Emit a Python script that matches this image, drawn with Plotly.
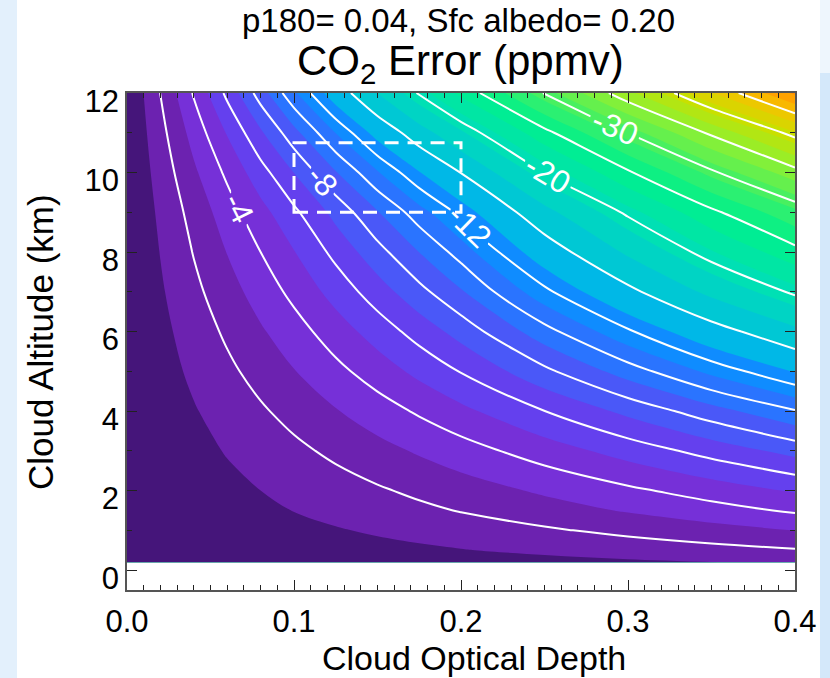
import numpy as np
import plotly.graph_objects as go

# Cloud optical depth (columns) and cloud altitude in km (rows)
optical_depth = [0.0, 0.02, 0.04, 0.06, 0.08, 0.10, 0.125, 0.15, 0.175, 0.20, 0.25, 0.30, 0.35, 0.40]
altitude_km = [0.2, 0.5, 1, 1.5, 2, 3, 4, 5, 6, 7, 8, 9, 10, 11, 12]

# CO2 error (ppmv), one row per altitude
co2_error = [
    [0, -0.06, -0.11, -0.17, -0.22, -0.28, -0.35, -0.42, -0.49, -0.56, -0.70, -0.85, -0.99, -1.13],
    [0, -0.10, -0.19, -0.29, -0.38, -0.48, -0.60, -0.72, -0.84, -0.96, -1.20, -1.44, -1.68, -1.92],
    [0, -0.15, -0.30, -0.44, -0.59, -0.74, -0.93, -1.12, -1.30, -1.49, -1.87, -2.25, -2.63, -3.01],
    [0, -0.20, -0.40, -0.61, -0.81, -1.02, -1.27, -1.53, -1.79, -2.05, -2.56, -3.09, -3.61, -4.14],
    [0, -0.25, -0.50, -0.75, -1.00, -1.25, -1.56, -1.88, -2.20, -2.52, -3.16, -3.80, -4.45, -5.11],
    [0, -0.35, -0.70, -1.06, -1.41, -1.77, -2.22, -2.67, -3.12, -3.57, -4.49, -5.42, -6.38, -7.35],
    [0, -0.46, -0.93, -1.40, -1.87, -2.34, -2.94, -3.54, -4.14, -4.75, -5.99, -7.27, -8.58, -9.91],
    [0, -0.60, -1.19, -1.78, -2.37, -2.96, -3.73, -4.48, -5.27, -6.05, -7.76, -9.48, -11.27, -13.08],
    [0, -0.73, -1.45, -2.17, -2.88, -3.58, -4.51, -5.45, -6.41, -7.39, -9.61, -11.82, -14.16, -16.51],
    [0, -0.88, -1.75, -2.59, -3.43, -4.27, -5.38, -6.52, -7.69, -8.88, -11.70, -14.52, -17.48, -20.34],
    [0, -1.03, -2.05, -3.03, -4.00, -4.96, -6.29, -7.64, -9.01, -10.43, -13.90, -17.31, -20.84, -24.28],
    [0, -1.19, -2.36, -3.51, -4.65, -5.79, -7.33, -8.93, -10.56, -12.25, -16.38, -20.34, -24.51, -28.51],
    [0, -1.41, -2.82, -4.21, -5.60, -7.02, -8.92, -10.89, -12.93, -15.04, -19.90, -24.68, -29.60, -34.16],
    [0, -1.68, -3.38, -5.08, -6.84, -8.65, -11.03, -13.52, -16.09, -18.68, -24.35, -29.99, -35.42, -40.81],
    [0, -2.02, -4.10, -6.24, -8.48, -10.80, -13.84, -17.03, -20.21, -23.50, -30.13, -36.45, -42.88, -49.40],
]

# Contour line levels: labelled ones and plain ones
labelled_levels = [-4, -8, -12, -20, -30]
label_depth = [0.067, 0.117, 0.205, 0.252, 0.292]
plain_level_groups = [(-10, -2, 4), (-45, -15, 10), (-40, -40, 1)]

# Filled bands every 2 ppmv
fill_start, fill_end, fill_step = -49, -1, 2

# Highlighted region (optical depth x altitude)
box_depth = [0.10, 0.20]
box_alt = [9.0, 10.75]

x_tick_vals = [0.0, 0.1, 0.2, 0.3, 0.4]
x_tick_text = ["0.0", "0.1", "0.2", "0.3", "0.4"]
y_tick_vals = [0, 2, 4, 6, 8, 10, 12]

# Band colours from most negative (0) to zero (1)
colorscale = [
    [0.00, "#ff8c00"], [0.04, "#ffa200"], [0.08, "#f8b800"], [0.12, "#ecc800"],
    [0.20, "#c8e000"], [0.30, "#90f030"], [0.40, "#48f060"], [0.50, "#00f08c"],
    [0.60, "#00e0b4"], [0.68, "#00c8d4"], [0.74, "#00b0f0"], [0.76, "#0f8cff"],
    [0.80, "#2a74ff"], [0.84, "#4a58f8"], [0.88, "#6440ee"], [0.92, "#7630d8"],
    [0.96, "#6c22b0"], [1.00, "#45157a"],
]

# Plot-area geometry in pixels (used for label orientation)
L_M, R_M, T_M, B_M = 127, 35, 93, 88
W, H = 830, 678
X_RANGE = [0.0, 0.4]
Y_RANGE = [-0.5, 12.0]
px_per_x = (W - L_M - R_M) / (X_RANGE[1] - X_RANGE[0])
px_per_y = (H - T_M - B_M) / (Y_RANGE[1] - Y_RANGE[0])

z_arr = np.array(co2_error, dtype=float)
x_arr = np.array(optical_depth, dtype=float)
y_arr = np.array(altitude_km, dtype=float)


def column_at(depth):
    return np.array([np.interp(depth, x_arr, row) for row in z_arr])


def altitude_on_level(level, depth):
    col = column_at(depth)
    return float(np.interp(level, col[::-1], y_arr[::-1]))


def sub_grid(lo, hi):
    xs = [lo] + [t for t in optical_depth if lo < t < hi] + [hi]
    zs = [[float(np.interp(t, x_arr, row)) for t in xs] for row in z_arr]
    return xs, zs


fig = go.Figure()

fig.add_trace(go.Contour(
    x=optical_depth, y=altitude_km, z=co2_error,
    colorscale=colorscale,
    contours=dict(coloring="fill", start=fill_start, end=fill_end, size=fill_step, showlines=False),
    line=dict(width=0), showscale=False, hoverinfo="skip",
))

line_style = dict(color="white", width=2)

for start, end, size in plain_level_groups:
    fig.add_trace(go.Contour(
        x=optical_depth, y=altitude_km, z=co2_error,
        contours=dict(coloring="none", start=start, end=end, size=size),
        line=line_style, showscale=False, hoverinfo="skip",
    ))

font_family = "Liberation Sans, Arial, sans-serif"
label_font = dict(family=font_family, size=32, color="white")
for level, depth in zip(labelled_levels, label_depth):
    alt = altitude_on_level(level, depth)
    d = 0.004
    a1 = altitude_on_level(level, depth - d)
    a2 = altitude_on_level(level, depth + d)
    angle = np.degrees(np.arctan2((a1 - a2) * px_per_y, 2 * d * px_per_x))
    text = str(level)
    half_len = 0.5 * (0.333 + 0.556 * (len(text) - 1)) * label_font["size"] + 3
    gap = half_len * np.cos(np.radians(angle)) / px_per_x
    for lo, hi in [(X_RANGE[0], depth - gap), (depth + gap, X_RANGE[1])]:
        xs, zs = sub_grid(lo, hi)
        fig.add_trace(go.Contour(
            x=xs, y=altitude_km, z=zs,
            contours=dict(coloring="none", start=level, end=level, size=1),
            line=line_style, showscale=False, hoverinfo="skip",
        ))
    fig.add_annotation(
        x=depth, y=alt, xref="x", yref="y", text=text, showarrow=False,
        textangle=float(angle), font=label_font, xanchor="center", yanchor="middle",
    )

fig.add_shape(
    type="rect", xref="x", yref="y",
    x0=box_depth[0], x1=box_depth[1], y0=box_alt[0], y1=box_alt[1],
    line=dict(color="white", width=3, dash="14px,9px"),
)


# Slide background strips around the white panel
def px_to_paper_x(px):
    return (px - L_M) / (W - L_M - R_M)


def px_to_paper_y(py):
    return (H - B_M - py) / (H - T_M - B_M)


for x0, x1, y0, y1, col in [
    (0, 17, 0, H, "#e3f0fc"),
    (820, W, 73, H, "#d4e8fa"),
    (820, W, 0, 73, "#eef6fd"),
]:
    fig.add_shape(
        type="rect", xref="paper", yref="paper", layer="below",
        x0=px_to_paper_x(x0), x1=px_to_paper_x(x1),
        y0=px_to_paper_y(y1), y1=px_to_paper_y(y0),
        line=dict(width=0), fillcolor=col,
    )

# Titles and axis titles
fig.add_annotation(
    x=px_to_paper_x(458), y=px_to_paper_y(21), xref="paper", yref="paper",
    text="p180= 0.04, Sfc albedo= 0.20", showarrow=False,
    font=dict(family=font_family, size=33, color="black"), xanchor="center", yanchor="middle",
)
fig.add_annotation(
    x=px_to_paper_x(460), y=px_to_paper_y(63), xref="paper", yref="paper",
    text="CO<sub>2</sub> Error (ppmv)", showarrow=False,
    font=dict(family=font_family, size=42, color="black"), xanchor="center", yanchor="middle",
)
fig.add_annotation(
    x=px_to_paper_x(474), y=px_to_paper_y(658), xref="paper", yref="paper",
    text="Cloud Optical Depth", showarrow=False,
    font=dict(family=font_family, size=34, color="black"), xanchor="center", yanchor="middle",
)
fig.add_annotation(
    x=px_to_paper_x(40), y=px_to_paper_y(342), xref="paper", yref="paper",
    text="Cloud Altitude (km)", showarrow=False, textangle=-90,
    font=dict(family=font_family, size=35, color="black"), xanchor="center", yanchor="middle",
)

axis_common = dict(
    showgrid=False, zeroline=False, showline=True, linecolor="#555555", linewidth=1.5,
    mirror="ticks", ticks="inside", ticklen=10, tickcolor="#222222", tickwidth=1.2,
    tickfont=dict(family=font_family, size=31, color="black"),
)

fig.update_xaxes(
    range=X_RANGE, tickvals=x_tick_vals, ticktext=x_tick_text, ticklabelstandoff=3,
    minor=dict(ticks="inside", ticklen=5, dtick=0.01, tickcolor="#222222", tickwidth=1),
    **axis_common,
)
fig.update_yaxes(
    range=Y_RANGE, tickvals=y_tick_vals, ticklabelshift=8,
    minor=dict(ticks="inside", ticklen=5, dtick=1, tickcolor="#222222", tickwidth=1),
    **axis_common,
)

fig.update_layout(
    width=W, height=H,
    margin=dict(l=L_M, r=R_M, t=T_M, b=B_M),
    paper_bgcolor="white", plot_bgcolor="white",
    showlegend=False,
)

fig.write_html("out.html")
